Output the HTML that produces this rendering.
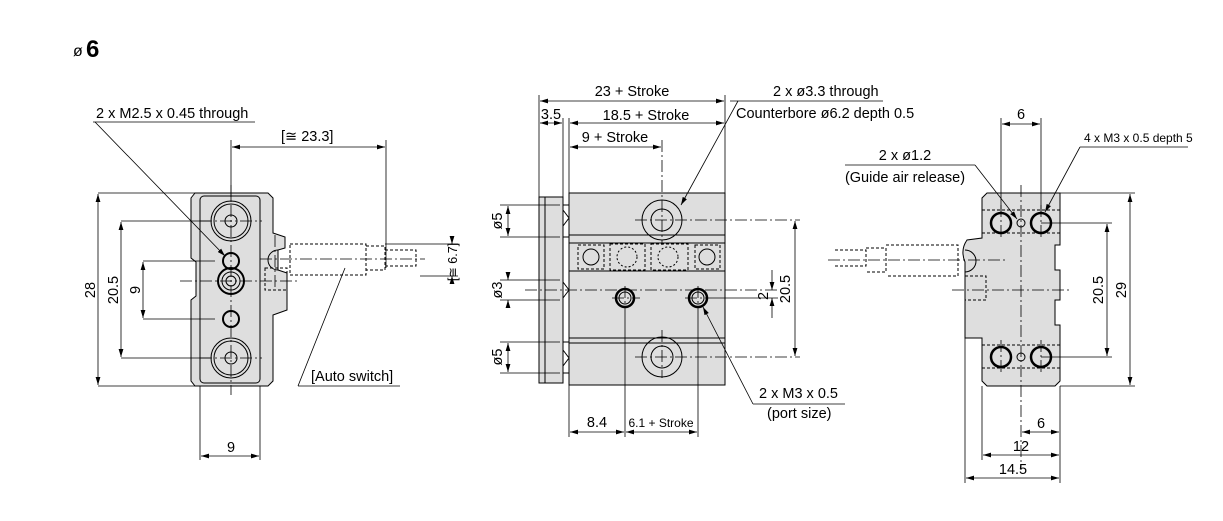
<!DOCTYPE html>
<html><head><meta charset="utf-8"><style>
html,body{margin:0;padding:0;background:#fff;}
svg{display:block;font-family:"Liberation Sans",Arial,sans-serif;}
.l{stroke:#000;stroke-width:1;fill:none}
.t{stroke:#000;stroke-width:.8;fill:none}
.c{stroke:#000;stroke-width:.8;fill:none;stroke-dasharray:12 3 2 3}
.d{stroke:#000;stroke-width:1;fill:none;stroke-dasharray:3 2}
.b{fill:#dedede;stroke:#000;stroke-width:1}
text{font-size:14.5px;fill:#000}
</style></head><body>
<svg width="1223" height="521" viewBox="0 0 1223 521">
<defs>
<marker id="a" viewBox="0 0 10 6" refX="10" refY="3" markerWidth="8" markerHeight="5" orient="auto-start-reverse" markerUnits="userSpaceOnUse"><path d="M0,0L10,3L0,6z" fill="#000"/></marker>
</defs>
<text x="73" y="56" style="font-size:16px">ø</text><text x="86" y="57" style="font-size:24px;font-weight:bold">6</text>

<!-- LEFT VIEW -->
<path class="b" d="M195,193 H268 L273,198 V233 L285,237 V248 L278,250 V270 L287,273 V310 L273,315 V381 L268,386 H195 L191,381 V300 L196,296 V262 L191,258 V198 Z"/>
<rect x="200" y="196" width="60" height="187" rx="4" class="l"/>
<path class="l" d="M278,250 A10,10 0 1 0 278,270"/>
<g class="l">
<circle cx="231" cy="221" r="20"/><circle cx="231" cy="221" r="17"/><circle cx="231" cy="221" r="6"/>
<circle cx="231" cy="358" r="20"/><circle cx="231" cy="358" r="17"/><circle cx="231" cy="358" r="6"/>
<circle cx="231" cy="261" r="8" stroke-width="2"/><circle cx="231" cy="319" r="8" stroke-width="2"/>
<circle cx="231" cy="281" r="13" stroke-width="2"/><circle cx="231" cy="281" r="9"/><circle cx="231" cy="281" r="5"/>
</g>
<path class="d" d="M290,244 H366 V275 H290 Z M366,246 H385 V270 H366 M385,250 H416 V266 H385 M265,268 H287 V290 H265 Z"/>
<path class="c" d="M231,185 V395 M180,281 H300 M260,259 H425 M275,235 V290 M200,221 H262 M200,358 H262"/>
<g class="t">
<path d="M98,193 H200 M98,386 H200 M121,221 H210 M121,358 H210 M143,261 H215 M143,319 H215"/>
<path d="M98,194 V385" marker-start="url(#a)" marker-end="url(#a)"/>
<path d="M121,222 V357" marker-start="url(#a)" marker-end="url(#a)"/>
<path d="M143,262 V318" marker-start="url(#a)" marker-end="url(#a)"/>
<path d="M200,386 V460 M260,386 V460"/>
<path d="M201,456 H259" marker-start="url(#a)" marker-end="url(#a)"/>
<path d="M231,140 V200 M386,140 V268"/>
<path d="M232,147 H385" marker-start="url(#a)" marker-end="url(#a)"/>
<path d="M385,244 H458 M420,276 H458"/>
<path d="M452,236 V244" marker-end="url(#a)"/><path d="M452,284 V276" marker-end="url(#a)"/>
<path d="M93,122 H255"/>
<path d="M95,122 L225,256" marker-end="url(#a)"/>
<path d="M298,386 H400 M298,386 L345,268"/>
</g>
<text x="96" y="118">2 x M2.5 x 0.45 through</text>
<text x="281" y="141">[≅ 23.3]</text>
<text x="311" y="381">[Auto switch]</text>
<text x="231" y="452" text-anchor="middle">9</text>
<text transform="translate(95,290) rotate(-90)" text-anchor="middle">28</text>
<text transform="translate(118,290) rotate(-90)" text-anchor="middle">20.5</text>
<text transform="translate(140,290) rotate(-90)" text-anchor="middle">9</text>
<text transform="translate(457,262) rotate(-90)" text-anchor="middle" style="font-size:12.5px">[≅ 6.7]</text>

<!-- MIDDLE VIEW -->
<rect class="b" x="539" y="197" width="24" height="186"/>
<path class="l" d="M545,197 V383"/>
<rect class="b" x="569" y="193" width="156" height="192"/>
<rect x="569" y="235" width="156" height="36" fill="#ececec" class="l"/>
<path class="l" d="M569,243 H725 M569,338 H725 M569,343 H725 M563,205 H569 M563,237 H569 M563,342 H569 M563,373 H569"/>
<path class="l" d="M563,210 L569,218 L563,226 M563,350 L569,358 L563,366 M563,282 L569,290 L563,298"/>
<path class="d" d="M578,245 H604 V269 H578 Z M610,244 H645 V270 H610 Z M651,244 H688 V270 H651 Z M695,245 H720 V269 H695 Z"/>
<g class="l"><circle cx="591" cy="257" r="8"/><circle cx="627" cy="257" r="10" stroke-dasharray="2 2"/><circle cx="668" cy="257" r="10" stroke-dasharray="2 2"/><circle cx="707" cy="257" r="8"/>
<circle cx="662" cy="220" r="20"/><circle cx="662" cy="220" r="11"/>
<circle cx="662" cy="357" r="20"/><circle cx="662" cy="357" r="11"/>
<circle cx="625" cy="298" r="9" stroke-width="2.5"/><circle cx="625" cy="298" r="6"/>
<circle cx="698" cy="298" r="9" stroke-width="2.5"/><circle cx="698" cy="298" r="6"/></g>
<path class="c" d="M525,290 H780 M635,220 H800 M635,357 H800 M662,140 V245 M662,330 V378 M612,298 H640 M685,298 H712 M625,286 V310 M698,286 V310"/>
<g class="t">
<path d="M539,95 V197 M725,95 V193 M569,118 V193 M563,118 V197"/>
<path d="M540,101 H724" marker-start="url(#a)" marker-end="url(#a)"/>
<path d="M540,123 H562" marker-start="url(#a)" marker-end="url(#a)"/>
<path d="M570,123 H724" marker-start="url(#a)" marker-end="url(#a)"/>
<path d="M570,147 H661" marker-start="url(#a)" marker-end="url(#a)"/>
<path d="M500,205 H560 M500,237 H560 M500,280 H560 M500,300 H560 M500,342 H560 M500,373 H560"/>
<path d="M508,206 V236" marker-start="url(#a)" marker-end="url(#a)"/>
<path d="M508,272 V280" marker-end="url(#a)"/><path d="M508,308 V300" marker-end="url(#a)"/>
<path d="M508,343 V372" marker-start="url(#a)" marker-end="url(#a)"/>
<path d="M795,221 V356" marker-start="url(#a)" marker-end="url(#a)"/>
<path d="M712,298 H778"/>
<path d="M772,270 V290" marker-end="url(#a)"/><path d="M772,318 V298" marker-end="url(#a)"/>
<path d="M569,385 V437 M625,310 V437 M698,310 V437"/>
<path d="M570,432 H624" marker-start="url(#a)" marker-end="url(#a)"/>
<path d="M626,432 H697" marker-start="url(#a)" marker-end="url(#a)"/>
<path d="M730,101 H883"/><path d="M738,101 L681,205" marker-end="url(#a)"/>
<path d="M753,404 H845"/><path d="M753,404 L703,307" marker-end="url(#a)"/>
</g>
<text x="632" y="96" text-anchor="middle">23 + Stroke</text>
<text x="551" y="119" text-anchor="middle">3.5</text>
<text x="646" y="120" text-anchor="middle">18.5 + Stroke</text>
<text x="615" y="142" text-anchor="middle">9 + Stroke</text>
<text x="773" y="96">2 x ø3.3 through</text>
<text x="736" y="118">Counterbore ø6.2 depth 0.5</text>
<text x="759" y="398">2 x M3 x 0.5</text>
<text x="767" y="418">(port size)</text>
<text x="597" y="427" text-anchor="middle">8.4</text>
<text x="661" y="427" text-anchor="middle" style="font-size:12px">6.1 + Stroke</text>
<text transform="translate(502,221) rotate(-90)" text-anchor="middle">ø5</text>
<text transform="translate(502,290) rotate(-90)" text-anchor="middle">ø3</text>
<text transform="translate(502,357) rotate(-90)" text-anchor="middle">ø5</text>
<text transform="translate(790,289) rotate(-90)" text-anchor="middle">20.5</text>
<text transform="translate(768,296) rotate(-90)" text-anchor="middle">2</text>

<!-- RIGHT VIEW -->
<path class="b" d="M987,193 H1060 V245 H1055 V270 H1060 V300 H1055 V325 H1060 V381 L1055,386 H987 L982,381 V338 H965 L965,262 Q960,250 967,240 L982,238 V198 Z"/>
<path class="l" d="M965,250 A11,11 0 1 1 965,272"/>
<path class="d" d="M982,210 H1060 M982,233 H1060 M982,345 H1060 M982,368 H1060 M965,338 H982 V345 M835,250 H866 V266 H835 M866,248 H886 V272 H866 M886,245 H958 V276 H886 M965,276 H986 V300 H965"/>
<g class="l"><circle cx="1001" cy="223" r="10" stroke-width="2.5"/><circle cx="1041" cy="223" r="10" stroke-width="2.5"/>
<circle cx="1001" cy="357" r="10" stroke-width="2.5"/><circle cx="1041" cy="357" r="10" stroke-width="2.5"/>
<circle cx="1021" cy="223" r="4"/><circle cx="1021" cy="357" r="4"/></g>
<path class="c" d="M1021,185 V470 M828,260 H1005 M952,290 H1072 M1001,205 V240 M1041,205 V240 M1001,340 V375 M1041,340 V375"/>
<g class="t">
<path d="M1001,118 V213 M1041,118 V213"/>
<path d="M1002,124 H1040" marker-start="url(#a)" marker-end="url(#a)"/>
<path d="M1041,223 H1112 M1041,357 H1112 M1060,193 H1135 M1060,386 H1135"/>
<path d="M1107,224 V356" marker-start="url(#a)" marker-end="url(#a)"/>
<path d="M1130,194 V385" marker-start="url(#a)" marker-end="url(#a)"/>
<path d="M1060,386 V483 M982,386 V460 M965,338 V483"/>
<path d="M1022,432 H1059" marker-start="url(#a)" marker-end="url(#a)"/>
<path d="M983,455 H1059" marker-start="url(#a)" marker-end="url(#a)"/>
<path d="M966,478 H1059" marker-start="url(#a)" marker-end="url(#a)"/>
<path d="M1080,147 H1188"/><path d="M1080,147 L1045,212" marker-end="url(#a)"/>
<path d="M845,165 H975"/><path d="M975,165 L1017,219" marker-end="url(#a)"/>
</g>
<text x="1021" y="119" text-anchor="middle">6</text>
<text x="1084" y="142" style="font-size:12px">4 x M3 x 0.5 depth 5</text>
<text x="905" y="160" text-anchor="middle">2 x ø1.2</text>
<text x="905" y="182" text-anchor="middle">(Guide air release)</text>
<text x="1041" y="428" text-anchor="middle">6</text>
<text x="1021" y="451" text-anchor="middle">12</text>
<text x="1013" y="474" text-anchor="middle">14.5</text>
<text transform="translate(1103,290) rotate(-90)" text-anchor="middle">20.5</text>
<text transform="translate(1126,290) rotate(-90)" text-anchor="middle">29</text>
</svg>
</body></html>
